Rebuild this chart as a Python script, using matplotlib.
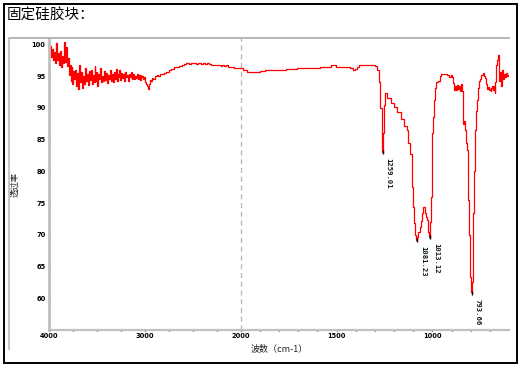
import matplotlib
matplotlib.use("Agg")
import matplotlib.pyplot as plt
import numpy as np
from matplotlib.lines import Line2D
from matplotlib.patches import Rectangle

title = "固定硅胶块："
xlabel = "波数（cm-1）"
ylabel = "透过率"

wavenumber = [
    4000, 3990, 3980, 3970, 3960, 3950, 3940, 3930, 3920, 3910, 3900, 3890, 3880, 3870, 3860,
    3850, 3840, 3830, 3820, 3810, 3800, 3790, 3780, 3770, 3760, 3750, 3740, 3730, 3720, 3710,
    3700, 3690, 3680, 3670, 3660, 3650, 3640, 3630, 3620, 3610, 3600, 3590, 3580, 3570, 3560,
    3550, 3540, 3530, 3520, 3510, 3500, 3490, 3480, 3470, 3460, 3450, 3440, 3430, 3420, 3410,
    3400, 3390, 3380, 3370, 3360, 3350, 3340, 3330, 3320, 3310, 3300, 3290, 3280, 3270, 3260,
    3250, 3240, 3230, 3220, 3210, 3200, 3190, 3180, 3170, 3160, 3150, 3140, 3130, 3120, 3110,
    3100, 3090, 3080, 3070, 3060, 3050, 3040, 3030, 3020, 3010, 3000, 2990, 2980, 2970, 2963,
    2955, 2945, 2935, 2920, 2900, 2880, 2870, 2850, 2830, 2810, 2790, 2765, 2740, 2710, 2680,
    2660, 2630, 2600, 2580, 2555, 2530, 2500, 2480, 2460, 2440, 2419, 2400, 2380, 2360, 2340,
    2320, 2300, 2283, 2260, 2240, 2220, 2200, 2180, 2160, 2137, 2120, 2100, 2080, 2053, 2030,
    2000, 1980, 1958, 1930, 1911, 1885, 1859, 1830, 1800, 1776, 1750, 1720, 1687, 1660, 1630,
    1598, 1570, 1540, 1515, 1490, 1463, 1440, 1420, 1410, 1400, 1390, 1375, 1358, 1340, 1320,
    1306, 1295, 1285, 1275, 1266, 1262, 1259, 1255, 1251, 1246, 1243, 1228, 1207, 1191, 1176,
    1155, 1139, 1129, 1120, 1113, 1103, 1097, 1092, 1086, 1081, 1076, 1070, 1063, 1058, 1052,
    1047, 1042, 1037, 1030, 1024, 1018, 1013, 1010, 1006, 1002, 997, 993, 988, 983, 975,
    967, 958, 950, 941, 930, 920, 910, 900, 894, 888, 884, 879, 874, 870, 866,
    860, 855, 850, 845, 842, 837, 830, 826, 820, 816, 811, 806, 800, 796, 794,
    791, 787, 784, 779, 774, 769, 764, 758, 753, 748, 740, 733, 727, 722, 717,
    712, 708, 703, 698, 694, 690, 685, 680, 676, 673, 670, 664, 659, 654, 649,
    644, 639, 633, 628, 622, 617, 612, 607, 602, 600,
]
transmittance = [
    99.5, 98.5, 99.8, 98.0, 99.2, 97.6, 98.8, 97.0, 100.2, 97.5, 98.6, 96.8, 99.0, 96.5, 98.2,
    97.0, 100.3, 97.2, 99.6, 96.6, 97.8, 95.2, 96.8, 94.2, 96.5, 93.8, 95.8, 94.5, 96.0, 93.4,
    95.5, 93.0, 96.8, 94.0, 95.6, 93.2, 95.0, 93.8, 96.3, 94.2, 95.4, 93.6, 95.8, 94.4, 96.0,
    93.8, 95.2, 94.0, 96.6, 94.3, 95.6, 93.5, 95.3, 94.6, 96.2, 94.0, 95.0, 94.2, 95.8, 94.4,
    95.5, 93.9, 95.2, 94.5, 96.0, 94.3, 95.4, 94.0, 95.6, 94.6, 96.1, 94.2, 95.3, 94.8, 95.9,
    94.4, 95.5, 94.7, 95.3, 94.2, 95.6, 94.8, 95.2, 94.3, 95.4, 94.9, 95.6, 94.6, 95.3, 94.5,
    95.0, 94.7, 95.4, 94.6, 95.1, 94.4, 95.2, 94.8, 95.0, 94.5, 94.8, 94.0, 93.8, 93.4, 92.9,
    93.8, 94.4, 94.3, 94.7, 94.6, 95.0, 95.1, 95.0, 95.3, 95.4, 95.5, 95.6, 95.9, 96.1, 96.4,
    96.5, 96.6, 96.8, 96.9, 97.0, 96.9, 97.0, 97.1, 96.9, 97.0, 97.1, 96.9, 97.0, 96.9, 97.1,
    96.9, 96.8, 96.8, 96.8, 96.7, 96.7, 96.6, 96.7, 96.6, 96.7, 96.5, 96.5, 96.4, 96.3, 96.3,
    96.3, 96.0, 95.7, 95.7, 95.7, 95.8, 95.9, 95.9, 96.0, 96.0, 96.1, 96.1, 96.2, 96.2, 96.3,
    96.3, 96.4, 96.5, 96.7, 96.5, 96.4, 96.4, 96.3, 96.0, 96.1, 96.5, 96.7, 96.8, 96.8, 96.8,
    96.8, 96.6, 95.9, 94.0, 90.0, 86.0, 83.0, 86.0, 90.4, 92.3, 92.3, 91.6, 90.7, 90.1, 89.3,
    88.3, 87.2, 86.5, 84.5, 82.8, 77.5, 74.4, 71.9, 70.0, 69.2, 69.6, 70.5, 71.3, 72.2, 73.4,
    74.3, 74.4, 73.5, 72.8, 72.3, 70.5, 69.6, 72.0, 76.0, 81.7, 86.0, 88.5, 91.2, 93.2, 94.0,
    94.3, 95.0, 95.3, 95.4, 95.4, 95.2, 94.9, 95.2, 94.8, 93.9, 92.8, 93.5, 92.8, 93.6, 93.0,
    93.4, 92.6, 93.8, 92.7, 92.7, 87.5, 88.0, 86.5, 84.5, 83.3, 75.5, 70.0, 63.4, 61.0, 60.8,
    62.5, 66.0, 73.4, 80.0, 86.5, 89.5, 91.2, 93.1, 94.2, 94.6, 95.1, 95.5, 95.0, 94.7, 93.8,
    93.0, 93.3, 92.8, 93.0, 92.6, 93.1, 93.5, 92.8, 93.5, 92.4, 94.0, 96.7, 97.5, 98.4, 94.3,
    95.6, 93.5, 95.9, 94.6, 95.3, 94.8, 95.5, 95.0, 95.1, 95.1,
]

peak_wn = [1259, 1081, 1013, 794]
peak_val = [83.0, 69.2, 69.6, 60.8]
peak_labels = ["1259.01", "1081.23", "1013.12", "793.66"]

major_ticks = [4000, 3000, 2000, 1500, 1000]
minor_ticks = [3750, 3500, 3250, 2750, 2500, 2250, 1900, 1800, 1700, 1600, 1400, 1300,
               1200, 1100, 900, 800, 700]
y_ticks = [60, 65, 70, 75, 80, 85, 90, 95, 100]


def fwd(x):
    x = np.asarray(x, dtype=float)
    return np.where(x < 2000, x, 2000 + (x - 2000) / 2.0)


def inv(y):
    y = np.asarray(y, dtype=float)
    return np.where(y < 2000, y, 2000 + (y - 2000) * 2.0)


W, H = 522, 369
fig = plt.figure(figsize=(W / 100, H / 100), dpi=100)
cjk = ["Noto Sans CJK SC", "DejaVu Sans"]

ax = fig.add_axes([49 / W, 1 - 330 / H, 460 / W, 292 / H])
ax.set_xscale("function", functions=(fwd, inv))
ax.set_xlim(4000, 600)
ax.set_ylim(55, 101)

ax.plot(wavenumber, transmittance, color="#ff0000", lw=0.9, drawstyle="steps-mid")
ax.axvline(2000, color="#b4b4b4", lw=0.9, ls=(0, (4, 3)))

for w, v, lab in zip(peak_wn, peak_val, peak_labels):
    ax.plot([w], [v], marker="|", color="black", ms=3, mew=1)
    ax.annotate(lab, xy=(w, v), xytext=(3, -6), textcoords="offset pixels",
                rotation=270, ha="left", va="top", fontsize=5.2,
                family="DejaVu Sans Mono", weight="bold", color="#102010")

ax.set_xticks(major_ticks)
ax.set_xticklabels([str(t) for t in major_ticks])
ax.set_xticks(minor_ticks, minor=True)
ax.set_yticks(y_ticks)
ax.set_yticklabels([str(t) for t in y_ticks])
ax.tick_params(axis="both", which="both", length=2, width=1, color="black",
               direction="inout", labelsize=4.8, pad=1.5)
for lbl in ax.get_xticklabels() + ax.get_yticklabels():
    lbl.set_fontweight("bold")

ax.spines["right"].set_visible(False)
ax.spines["top"].set_visible(False)
ax.spines["left"].set_color("#c0c0c0")
ax.spines["left"].set_linewidth(2.0)
ax.spines["bottom"].set_color("#c0c0c0")
ax.spines["bottom"].set_linewidth(1.6)

ax.set_xlabel(xlabel, family=cjk, fontsize=6.5, labelpad=3, color="#222222")
ax.text(15 / W, 1 - 184 / H, ylabel, transform=fig.transFigure, rotation=90,
        ha="center", va="center", family=cjk, fontsize=6, color="#222222")

# panel lines
fig.add_artist(Line2D([9 / W, 509 / W], [1 - 38 / H, 1 - 38 / H], color="#b0b0b0", lw=1.3,
                      transform=fig.transFigure))
fig.add_artist(Line2D([9 / W, 9 / W], [1 - 38 / H, 1 - 349 / H], color="#c0c0c0", lw=1.3,
                      transform=fig.transFigure))
# outer border
fig.add_artist(Rectangle((3.5 / W, 1 - 363 / H), 513 / W, 359 / H, fill=False,
                         edgecolor="black", lw=1.4, transform=fig.transFigure))

fig.text(7 / W, 1 - 16 / H, title, family=cjk, fontsize=10.5, ha="left", va="center",
         color="black")

fig.savefig("out.png", dpi=100)
